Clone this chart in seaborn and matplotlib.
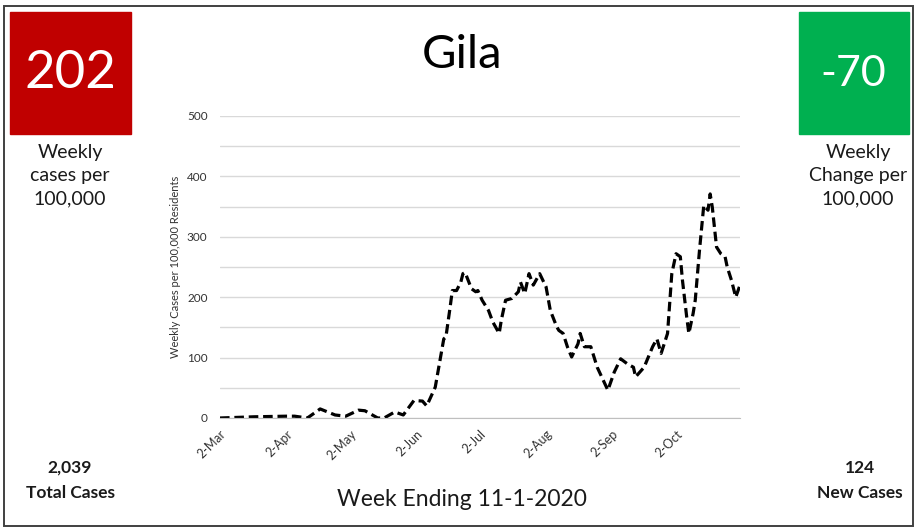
import numpy as np
import pandas as pd
import matplotlib.pyplot as plt
import seaborn as sns
from matplotlib.patches import Rectangle

# days after 2-Mar-2020 and weekly cases per 100,000
days = [0, 16, 31, 35, 41, 47, 54, 59, 65, 68, 74, 77, 82, 86, 91, 95, 97,
        101, 105, 106, 108, 109, 111, 113, 114, 115, 118, 120, 121, 123, 126,
        128, 131, 132, 134, 137, 140, 141, 143, 145, 147, 150, 153, 155, 158,
        159, 161, 163, 165, 168, 169, 171, 174, 177, 182, 185, 188, 191, 194,
        195, 199, 203, 205, 207, 210, 212, 214, 216, 217, 219, 220, 222, 223,
        225, 227, 229, 230, 231, 233, 235, 237, 238, 240, 242, 244]
cases = [0, 2, 3, 3, 0, 15, 5, 3, 13, 12, 0, 0, 10, 5, 29, 28, 20,
         51, 131, 134, 184, 211, 211, 225, 239, 241, 214, 209, 211, 195, 178,
         159, 140, 162, 195, 198, 209, 225, 206, 239, 220, 239, 217, 178, 151,
         145, 140, 118, 101, 123, 140, 118, 118, 84, 46, 76, 98, 90, 84,
         68, 84, 118, 131, 107, 140, 239, 272, 267, 228, 167, 140, 173, 195,
         278, 352, 344, 371, 349, 283, 272, 267, 250, 228, 200, 220]

tick_labels = ['2-Mar', '2-Apr', '2-May', '2-Jun', '2-Jul', '2-Aug', '2-Sep', '2-Oct']
tick_dates = pd.to_datetime(['2020-03-02', '2020-04-02', '2020-05-02', '2020-06-02',
                             '2020-07-02', '2020-08-02', '2020-09-02', '2020-10-02'])
y_ticks = [0, 100, 200, 300, 400, 500]

county = 'Gila'
weekly_rate = '202'
weekly_change = '-70'
total_cases = '2,039'
new_cases = '124'
week_ending = 'Week Ending 11-1-2020'

start = pd.Timestamp('2020-03-02')
df = pd.DataFrame({'date': start + pd.to_timedelta(days, unit='D'), 'cases': cases})

sns.set_style('white')
plt.rcParams['font.family'] = ['Lato', 'DejaVu Sans']
txt = '#1a1a1a'

fig = plt.figure(figsize=(9.15, 5.30), dpi=100)
W, H = 915, 530

def fx(px):
    return px / W

def fy(py):
    return 1 - py / H

# outer frame
fig.patches.append(Rectangle((fx(4), fy(526)), fx(909), 520 / H, transform=fig.transFigure,
                             fill=False, edgecolor='#404040', linewidth=1.4))

ax = fig.add_axes([fx(220), fy(418), fx(520), 302 / H])
sns.lineplot(data=df, x='date', y='cases', ax=ax, color='black', linewidth=2.3)
ax.lines[0].set_dashes([3.0, 1.5])

ax.set_xlim(start, start + pd.Timedelta(days=244))
ax.set_ylim(0, 500)
ax.set_yticks(y_ticks)
ax.set_yticks(np.arange(0, 501, 50), minor=True)
ax.grid(True, which='both', axis='y', color='#d9d9d9', linewidth=1)
ax.set_axisbelow(True)
ax.set_xticks(tick_dates)
ax.set_xticklabels(tick_labels, rotation=45, ha='right', rotation_mode='anchor',
                   fontsize=9, color='#333333')
ax.tick_params(axis='x', length=4, color='#bfbfbf', pad=3)
ax.tick_params(axis='y', which='both', length=0, labelsize=8.5, labelcolor='#333333', pad=9)
for s in ['top', 'right', 'left']:
    ax.spines[s].set_visible(False)
ax.spines['bottom'].set_color('#bfbfbf')
ax.set_xlabel('')
ax.set_ylabel('Weekly Cases per 100,000 Residents', fontsize=8, color='#333333', labelpad=4)

# title and footer
fig.text(fx(462), fy(55), county, fontsize=34, color='black', ha='center', va='center')
fig.text(fx(462), fy(500), week_ending, fontsize=16.5, color=txt, ha='center', va='center')

# left panel
fig.patches.append(Rectangle((fx(10), fy(134)), fx(121), 122 / H, transform=fig.transFigure,
                             color='#c00000'))
fig.text(fx(70), fy(74), weekly_rate, fontsize=38, color='white', ha='center', va='center')
fig.text(fx(70), fy(176), 'Weekly\ncases per\n100,000', fontsize=14, color=txt,
         ha='center', va='center', linespacing=1.45)
fig.text(fx(70), fy(468), total_cases, fontsize=12.5, fontweight='bold', color=txt,
         ha='center', va='center')
fig.text(fx(70), fy(493), 'Total Cases', fontsize=12.5, fontweight='bold', color=txt,
         ha='center', va='center')

# right panel
fig.patches.append(Rectangle((fx(799), fy(134)), fx(110), 122 / H, transform=fig.transFigure,
                             color='#00b050'))
fig.text(fx(853), fy(74), weekly_change, fontsize=31, color='white', ha='center', va='center')
fig.text(fx(858), fy(176), 'Weekly\nChange per\n100,000', fontsize=14, color=txt,
         ha='center', va='center', linespacing=1.45)
fig.text(fx(860), fy(468), new_cases, fontsize=12.5, fontweight='bold', color=txt,
         ha='center', va='center')
fig.text(fx(860), fy(493), 'New Cases', fontsize=12.5, fontweight='bold', color=txt,
         ha='center', va='center')

fig.savefig('out.png', dpi=100)
